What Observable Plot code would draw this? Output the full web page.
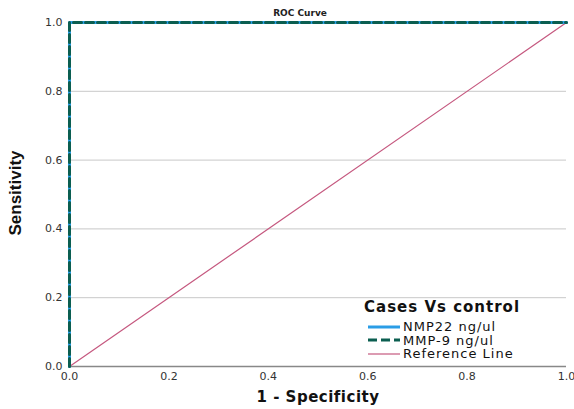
<!DOCTYPE html>
<html><head><meta charset="utf-8">
<script src="https://cdn.jsdelivr.net/npm/d3@7"></script>
<script src="https://cdn.jsdelivr.net/npm/@observablehq/plot@0.6"></script>
<style>
html,body{margin:0;padding:0;background:#fff;}
#wrap{position:relative;width:574px;height:409px;overflow:hidden;font-family:"DejaVu Sans",sans-serif;}
#title{position:absolute;left:0;width:574px;top:8px;text-align:center;font:bold 9px "DejaVu Sans",sans-serif;color:#222;padding-left:26px;box-sizing:border-box;}
#ylab{position:absolute;left:16px;top:193px;transform:translate(-50%,-50%) rotate(-90deg);font:bold 17px "Liberation Sans Narrow",sans-serif;color:#111;white-space:nowrap;}
#xlab{position:absolute;left:0;width:574px;top:388px;text-align:center;font:bold 15px "DejaVu Sans",sans-serif;letter-spacing:0.5px;color:#111;padding-left:62px;box-sizing:border-box;}
#legend{position:absolute;left:360px;top:299px;width:204px;height:65px;background:#fff;}
#legend .t{font:bold 15px "DejaVu Sans",sans-serif;letter-spacing:1px;color:#111;margin-left:4px;line-height:17px;}
#legend .it{display:flex;align-items:center;height:13.5px;font:13px "DejaVu Sans",sans-serif;color:#111;letter-spacing:1px;}
#legend svg{margin-left:8px;margin-right:3px;}
</style>
</head><body>
<div id="wrap"><div id="title">ROC Curve</div><div id="ylab">Sensitivity</div><div id="xlab">1 - Specificity</div></div>
<script>
const fpr = [0, 0, 1];
const nmp22Tpr = [0, 1, 1];
const mmp9Tpr = [0, 1, 1];
const refX = [0, 1];
const refY = [0, 1];
const ticks = [0, 0.2, 0.4, 0.6, 0.8, 1.0];
const seriesNames = ["NMP22 ng/ul", "MMP-9 ng/ul", "Reference Line"];
const legendTitle = "Cases Vs control";
const colors = {nmp: "#2a9de6", mmp: "#0b5e50", ref: "#c5587f"};

const nmp = fpr.map((x, i) => ({x, y: nmp22Tpr[i]}));
const mmp = fpr.map((x, i) => ({x, y: mmp9Tpr[i]}));
const ref = refX.map((x, i) => ({x, y: refY[i]}));

const chart = Plot.plot({
  width: 574, height: 409,
  marginLeft: 69, marginRight: 8, marginTop: 22, marginBottom: 43,
  style: {fontFamily: "DejaVu Sans, sans-serif", fontSize: "11px", color: "#333", overflow: "visible"},
  x: {domain: [0, 1], ticks, tickFormat: d3.format(".1f"), label: null},
  y: {domain: [0, 1], ticks, tickFormat: d3.format(".1f"), label: null},
  marks: [
    Plot.gridY(ticks.slice(1), {stroke: "#c8c8c8", strokeOpacity: 1, strokeWidth: 1}),
    Plot.ruleY([0], {stroke: "#888", strokeWidth: 1.5}),
    Plot.axisX({ticks, tickSize: 0, tickPadding: 6, tickFormat: d3.format(".1f")}),
    Plot.axisY({ticks, tickSize: 0, tickPadding: 7, tickFormat: d3.format(".1f")}),
    Plot.line(ref, {x: "x", y: "y", stroke: colors.ref, strokeWidth: 1.2}),
    Plot.line(nmp, {x: "x", y: "y", stroke: colors.nmp, strokeWidth: 3, curve: "linear"}),
    Plot.line(mmp, {x: "x", y: "y", stroke: colors.mmp, strokeWidth: 3, strokeDasharray: "8,4"})
  ]
});
const wrap = document.getElementById("wrap");
wrap.insertBefore(chart, wrap.firstChild);

const leg = document.createElement("div");
leg.id = "legend";
const swatch = (c, w, dash) => `<svg width="32" height="6"><line x1="0" y1="3" x2="32" y2="3" stroke="${c}" stroke-width="${w}" ${dash ? `stroke-dasharray="${dash}"` : ""}/></svg>`;
leg.innerHTML = `<div class="t">${legendTitle}</div>
<div class="it" style="margin-top:4px">${swatch(colors.nmp, 3, null)}${seriesNames[0]}</div>
<div class="it">${swatch(colors.mmp, 3, "9,4")}${seriesNames[1]}</div>
<div class="it">${swatch(colors.ref, 1.2, null)}${seriesNames[2]}</div>`;
wrap.appendChild(leg);
</script>
</body></html>
